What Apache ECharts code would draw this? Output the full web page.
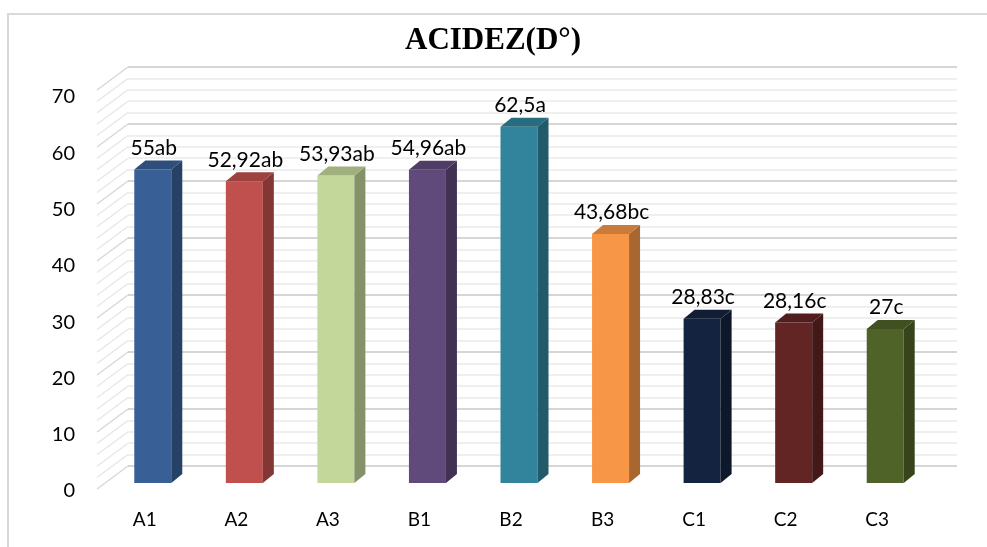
<!DOCTYPE html>
<html>
<head>
<meta charset="utf-8">
<script src="https://cdn.jsdelivr.net/npm/echarts@6/dist/echarts.min.js"></script>
<style>
  html, body { margin: 0; padding: 0; background: #fff; }
  #chart { width: 987px; height: 547px; }
</style>
</head>
<body>
<div id="chart"></div>
<script>
// data
const categories = ['A1', 'A2', 'A3', 'B1', 'B2', 'B3', 'C1', 'C2', 'C3'];
const values = [55, 52.92, 53.93, 54.96, 62.5, 43.68, 28.83, 28.16, 27];
const valueLabels = ['55ab', '52,92ab', '53,93ab', '54,96ab', '62,5a', '43,68bc', '28,83c', '28,16c', '27c'];
const yTicks = [0, 10, 20, 30, 40, 50, 60, 70];
const wallTicks = [0, 2, 4, 6, 8, 10, 12, 14, 16, 18, 20, 22, 24, 26, 28, 30, 32, 34,
  36, 38, 40, 42, 44, 46, 48, 50, 52, 54, 56, 58, 60, 62, 64, 66, 68, 70];

// colours of the front faces
const barColors = ['#386096', '#c0504d', '#c4d79b', '#604a7b', '#31849b',
  '#f79646', '#14233f', '#632523', '#4f6228'];

const chart = echarts.init(document.getElementById('chart'));
const font = 'Lato, "Open Sans", sans-serif';

// depth offset of the 3d boxes
const DX = 11, DY = -9, BAR_W = 37;
// offset from the back wall to the front edge of the side wall
const WALL_DX = -31, WALL_DY = 23;

// darker shade of a colour (f < 1)
function shade(hex, f) {
  const rgb = echarts.color.parse(hex);
  return 'rgb(' + rgb.slice(0, 3).map(v => Math.round(v * f)).join(',') + ')';
}

chart.setOption({
  animation: false,
  backgroundColor: '#fff',
  title: {
    text: 'ACIDEZ(D°)',
    left: 488, top: 20, textAlign: 'center',
    textStyle: { fontFamily: '"Liberation Serif", "Times New Roman", serif',
                 fontSize: 31, fontWeight: 'bold', color: '#000' }
  },
  graphic: [{
    type: 'rect', silent: true, z: -10,
    shape: { x: 8, y: 14, width: 1100, height: 700 },
    style: { fill: 'none', stroke: '#d9d9d9', lineWidth: 2 }
  }],
  grid: [
    // back wall
    { left: 128, right: 30, top: 67, bottom: 81 },
    // bars
    { left: 107, right: 56, top: 84, bottom: 64 },
    // axis labels (front edge)
    { left: 99, right: 64, top: 97, bottom: 56 }
  ],
  xAxis: [
    { gridIndex: 0, type: 'value', min: 0, max: 1, show: false },
    { gridIndex: 1, type: 'category', data: categories, show: false },
    { gridIndex: 2, type: 'category', data: categories,
      axisLine: { show: false }, axisTick: { show: false }, splitLine: { show: false },
      axisLabel: { margin: 19, fontFamily: font, fontSize: 19, color: '#000' } }
  ],
  yAxis: [
    { gridIndex: 0, type: 'value', min: 0, max: 70, interval: 10,
      axisLine: { show: false }, axisTick: { show: false }, axisLabel: { show: false },
      splitLine: { show: true, lineStyle: { color: '#d6d6d6', width: 2 } },
      minorTick: { show: false, splitNumber: 5 },
      minorSplitLine: { show: true, lineStyle: { color: '#eaeaea', width: 1.5 } } },
    { gridIndex: 1, type: 'value', min: 0, max: 70, interval: 10, show: false },
    { gridIndex: 2, type: 'value', min: 0, max: 70, interval: 10,
      axisLine: { show: false }, axisTick: { show: false }, splitLine: { show: false },
      axisLabel: { margin: 24, fontFamily: font, fontSize: 20, color: '#000',
                   customValues: yTicks } }
  ],
  series: [
    {
      // diagonal lines on the left side wall
      type: 'custom',
      xAxisIndex: 0, yAxisIndex: 0,
      silent: true,
      data: wallTicks.map(v => [0, v]),
      renderItem: (params, api) => {
        const p = api.coord([0, api.value(1)]);
        const major = api.value(1) % 10 === 0;
        return {
          type: 'line',
          shape: { x1: p[0], y1: p[1], x2: p[0] + WALL_DX, y2: p[1] + WALL_DY },
          style: { stroke: major ? '#d8d8d8' : '#e6e6e6', lineWidth: major ? 1.5 : 1.2 }
        };
      }
    },
    {
      // 3d bars
      type: 'custom',
      xAxisIndex: 1, yAxisIndex: 1,
      data: values.map((v, i) => [i, v]),
      renderItem: (params, api) => {
        const i = params.dataIndex;
        const top = api.coord([api.value(0), api.value(1)]);
        const base = api.coord([api.value(0), 0]);
        const L = top[0] - BAR_W / 2, R = top[0] + BAR_W / 2;
        const c = barColors[i];
        return {
          type: 'group',
          children: [
            { type: 'rect',
              shape: { x: L, y: top[1], width: BAR_W, height: base[1] - top[1] },
              style: { fill: c } },
            { type: 'polygon',
              shape: { points: [[R, top[1]], [R + DX, top[1] + DY], [R + DX, base[1] + DY], [R, base[1]]] },
              style: { fill: shade(c, 0.68) } },
            { type: 'polygon',
              shape: { points: [[L, top[1]], [L + DX, top[1] + DY], [R + DX, top[1] + DY], [R, top[1]]] },
              style: { fill: shade(c, 0.82) } },
            { type: 'text',
              style: { x: top[0] + 1, y: top[1] + DY - 2, text: valueLabels[i],
                       align: 'center', verticalAlign: 'bottom',
                       font: '21px ' + font, fill: '#000' } }
          ]
        };
      }
    }
  ]
});
</script>
</body>
</html>
